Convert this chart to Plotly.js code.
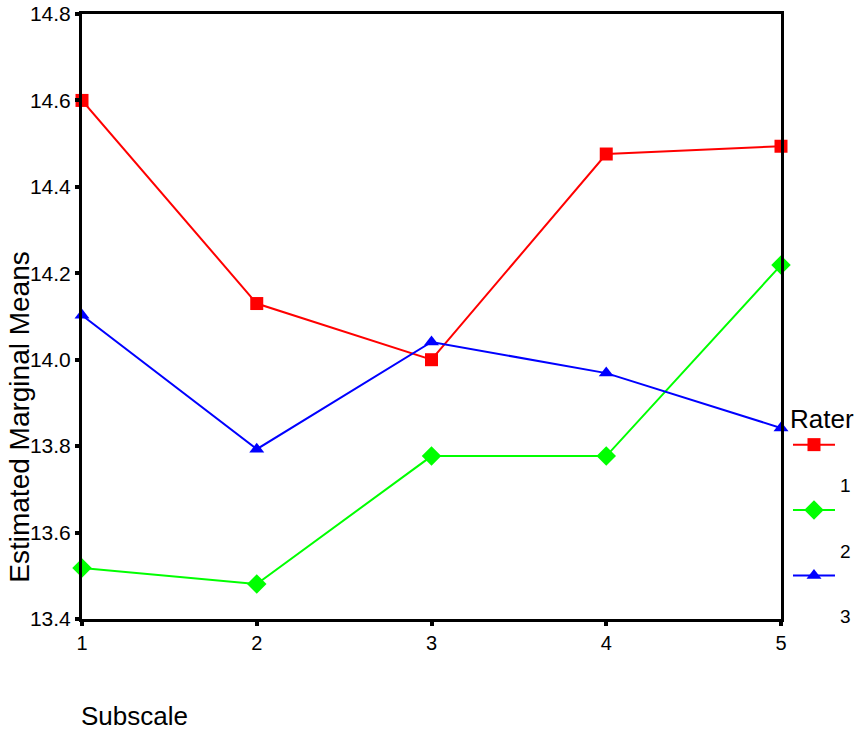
<!DOCTYPE html>
<html>
<head>
<meta charset="utf-8">
<script src="https://cdn.plot.ly/plotly-3.0.1.min.js"></script>
<style>html,body{margin:0;padding:0;background:#fff;}#chart{width:861px;height:733px;}</style>
</head>
<body>
<div id="chart"></div>
<script>
const subscales = [1, 2, 3, 4, 5];
const raterNames = ["1", "2", "3"];
const rater1 = [14.60, 14.13, 14.00, 14.476, 14.494];
const rater2 = [13.518, 13.481, 13.777, 13.777, 14.219];
const rater3 = [14.103, 13.793, 14.041, 13.969, 13.842];
const yTicks = [13.4, 13.6, 13.8, 14.0, 14.2, 14.4, 14.6, 14.8];

const seriesValues = [rater1, rater2, rater3];
const colors = ["#ff0000", "#00ff00", "#0000ff"];
const symbols = ["square", "diamond", "triangle-up"];
const sizes = [13, 15, 13];

const traces = seriesValues.map((vals, i) => ({
  x: subscales,
  y: vals,
  type: "scatter",
  mode: "lines+markers",
  name: "<br><br><span style='font-size:19px'>" + raterNames[i] + "</span>",
  line: {color: colors[i], width: 2},
  marker: {color: colors[i], symbol: symbols[i], size: sizes[i]},
  cliponaxis: false
}));

const font = "Arial, 'Liberation Sans', sans-serif";

const layout = {
  width: 861,
  height: 733,
  margin: {l: 82, r: 80, t: 14, b: 114, autoexpand: false},
  paper_bgcolor: "#ffffff",
  plot_bgcolor: "#ffffff",
  font: {family: font, color: "#000000", size: 21},
  showlegend: true,
  legend: {
    x: 1.01, y: 0.372, xanchor: "left", yanchor: "top",
    title: {text: "Rater", font: {size: 26}},
    font: {size: 16},
    valign: "top",
    itemwidth: 42,
    tracegroupgap: 0,
    bgcolor: "rgba(0,0,0,0)"
  },
  xaxis: {
    range: [1, 5],
    tickvals: subscales,
    ticktext: subscales.map(String),
    ticks: "outside", ticklen: 4, tickwidth: 4, tickcolor: "#000",
    showline: true, linecolor: "#000", linewidth: 3, mirror: true,
    showgrid: false, zeroline: false,
    tickfont: {size: 20}
  },
  yaxis: {
    range: [13.4, 14.8],
    tickvals: yTicks,
    ticktext: yTicks.map(v => v.toFixed(1)),
    ticks: "outside", ticklen: 4, tickwidth: 4, tickcolor: "#000",
    showline: true, linecolor: "#000", linewidth: 3, mirror: true,
    showgrid: false, zeroline: false,
    tickfont: {size: 21}
  },
  annotations: [
    {
      text: "Estimated Marginal Means",
      xref: "paper", yref: "paper",
      x: -0.089, y: 0.334, xanchor: "center", yanchor: "middle",
      textangle: -90, showarrow: false,
      font: {size: 28}
    },
    {
      text: "Subscale",
      xref: "paper", yref: "paper",
      x: -0.005, y: -0.16, xanchor: "left", yanchor: "middle",
      showarrow: false,
      font: {size: 26}
    }
  ]
};

Plotly.newPlot("chart", traces, layout, {displayModeBar: false, staticPlot: true});
</script>
</body>
</html>
